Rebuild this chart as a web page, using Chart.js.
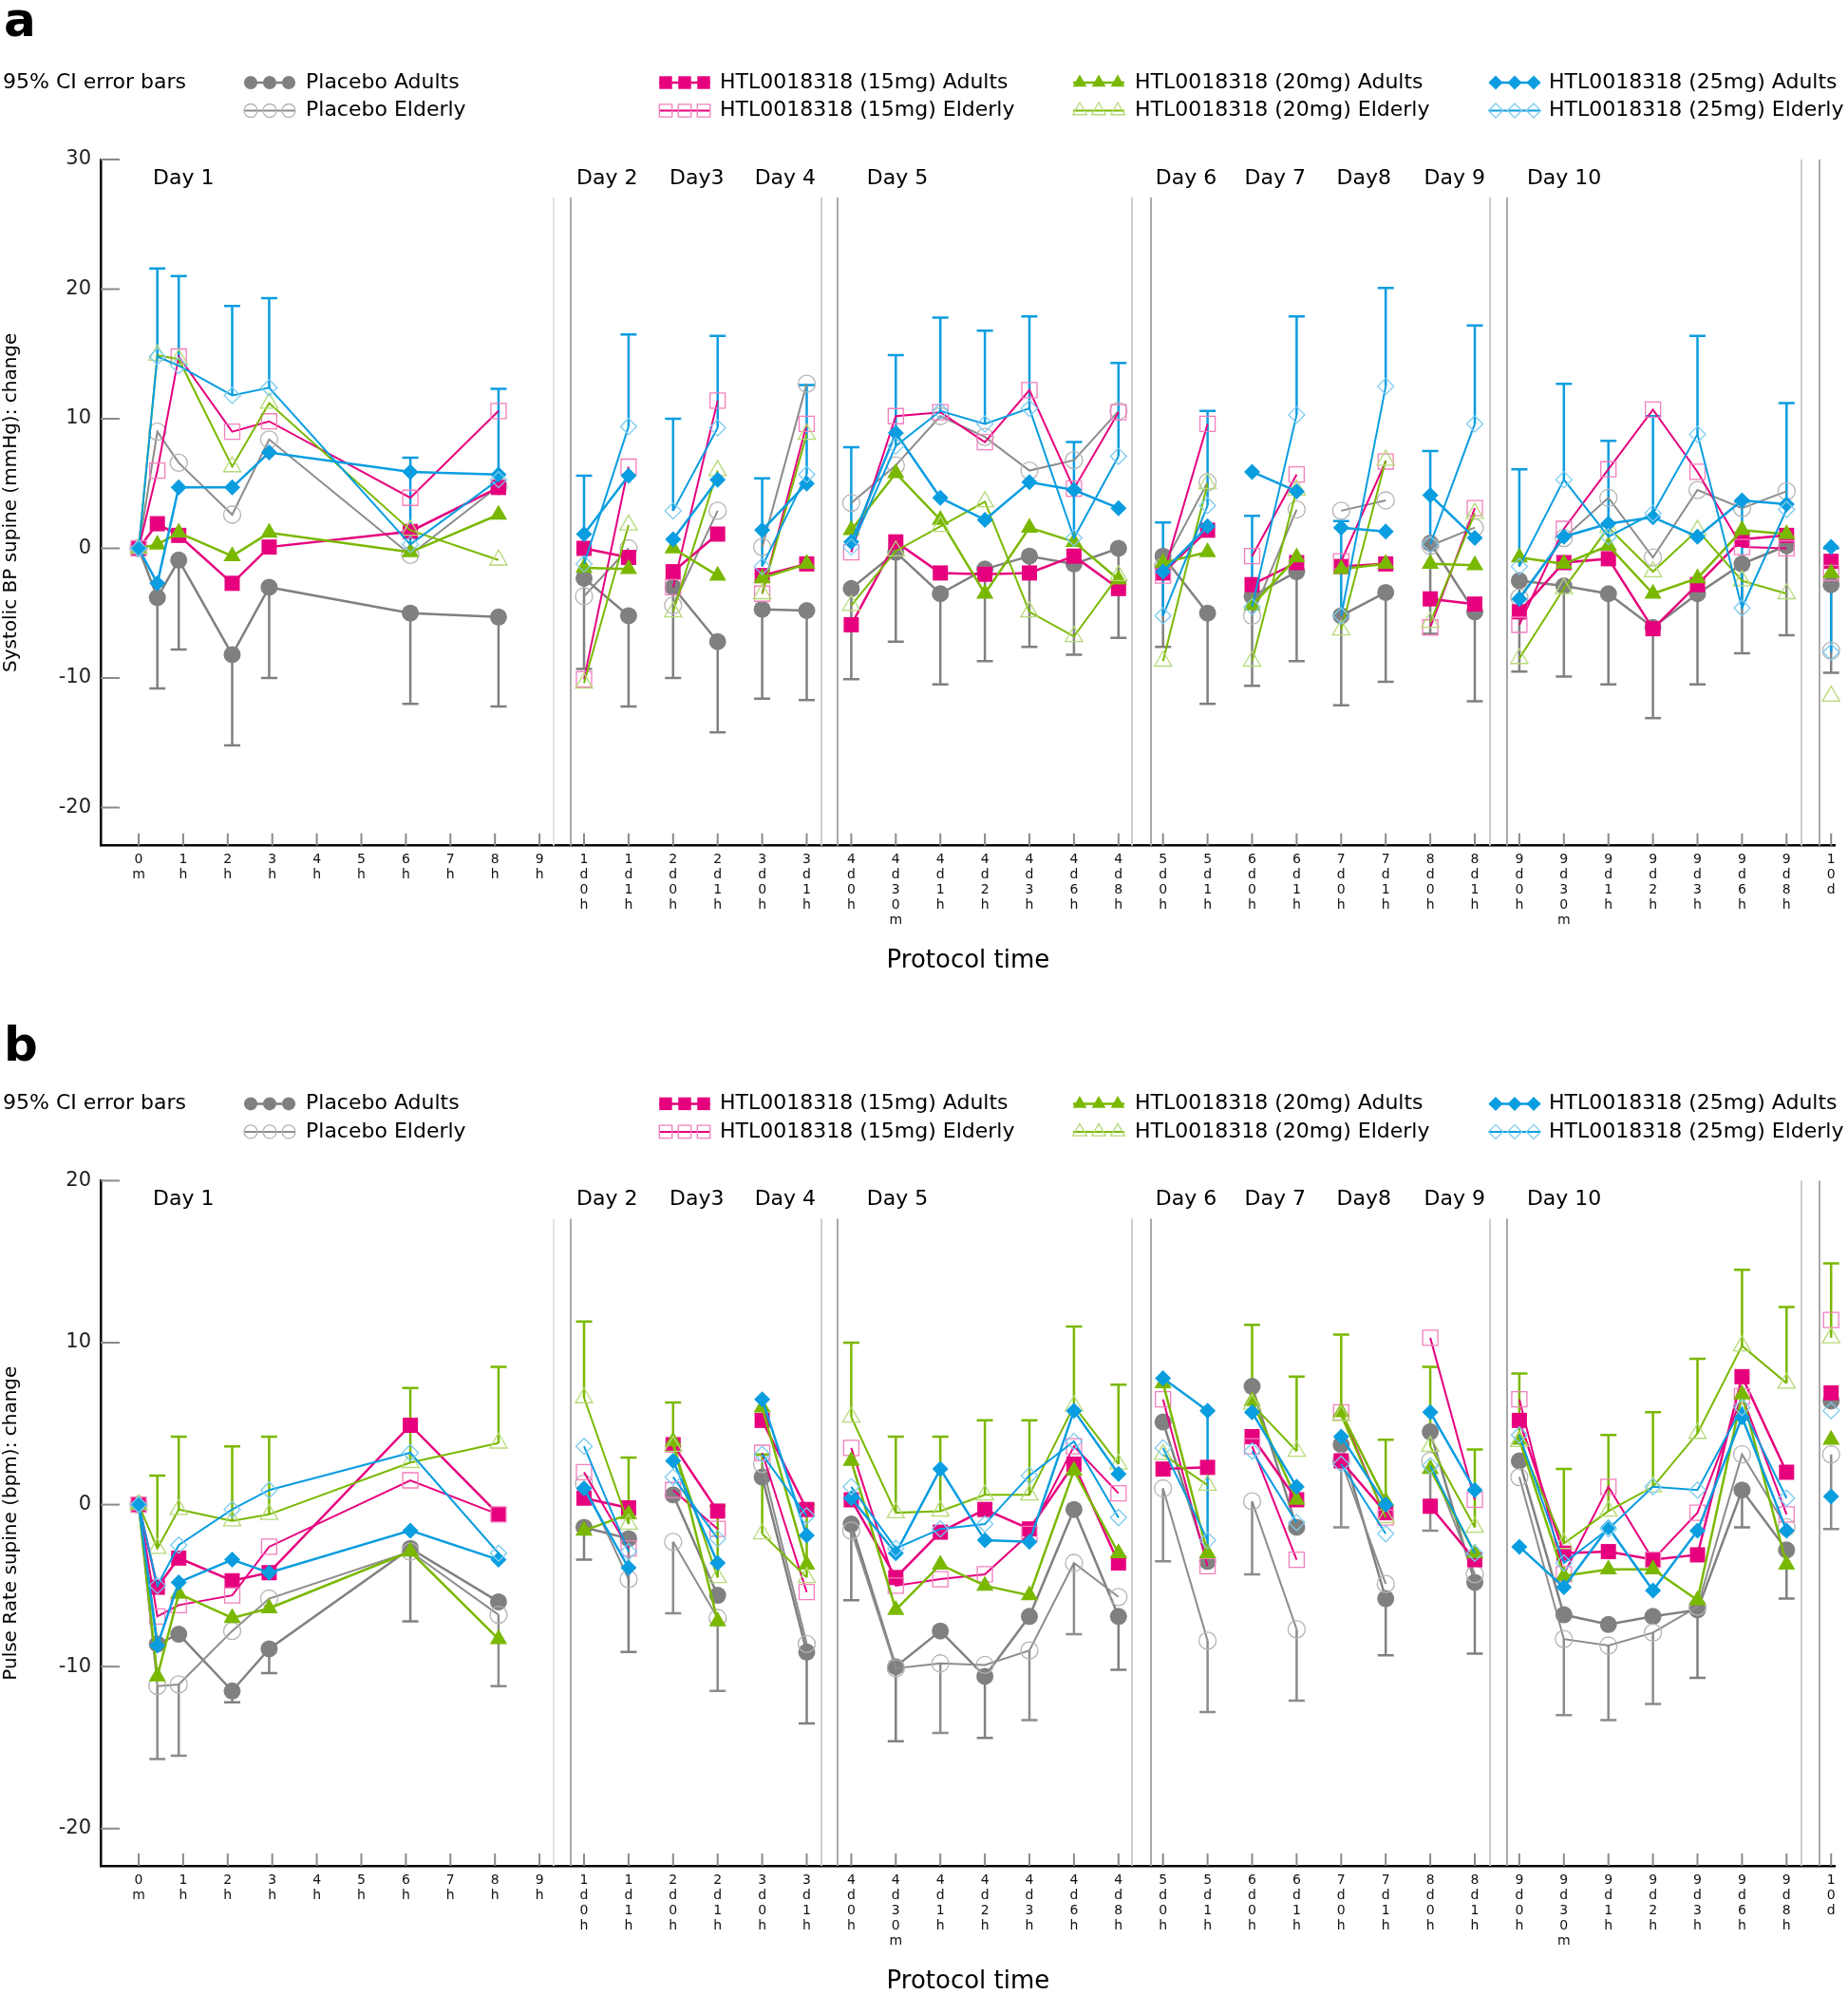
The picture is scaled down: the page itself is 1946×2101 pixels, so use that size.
<!DOCTYPE html>
<html>
<head>
<meta charset="utf-8">
<script src="https://cdn.jsdelivr.net/npm/chart.js@4.4.1/dist/chart.umd.min.js"></script>
<style>
  html, body { margin: 0; padding: 0; background: #fff; overflow: hidden; }
  body { width: 1946px; height: 2101px; position: relative; }
  canvas { position: absolute; left: 0; }
  #chartA { top: 0; }
  #chartB { top: 1040px; }
</style>
</head>
<body>
<canvas id="chartA" width="1946" height="1040"></canvas>
<canvas id="chartB" width="1946" height="1064"></canvas>
<script>
// ---- axis / categories ----
const tickLabels = ['0m','1h','2h','3h','4h','5h','6h','7h','8h','9h',
  '1d0h','1d1h','2d0h','2d1h','3d0h','3d1h',
  '4d0h','4d30m','4d1h','4d2h','4d3h','4d6h','4d8h',
  '5d0h','5d1h','6d0h','6d1h','7d0h','7d1h','8d0h','8d1h',
  '9d0h','9d30m','9d1h','9d2h','9d3h','9d6h','9d8h','10d'];

// measurement columns: position on the time axis and the day they belong to
const colX = [0, 0.42, 0.9, 2.1, 2.93, 6.1, 8.08,
  10, 11, 12, 13, 14, 15,
  16, 17, 18, 19, 20, 21, 22,
  23, 24, 25, 26, 27, 28, 29, 30,
  31, 32, 33, 34, 35, 36, 37, 38];
const colDay = [1,1,1,1,1,1,1, 2,2, 3,3, 4,4, 5,5,5,5,5,5,5, 6,6, 7,7, 8,8, 9,9, 10,10,10,10,10,10,10, 11];

const dayNames = ['Day 1','Day 2','Day3','Day 4','Day 5','Day 6','Day 7','Day8','Day 9','Day 10'];
const dayLabelX = [0.32, 9.83, 11.92, 13.83, 16.35, 22.83, 24.83, 26.9, 28.86, 31.17];
const sepLight = [9.32, 15.33, 22.3, 30.34, 37.33];
const sepDark = [9.71, 15.7, 22.72, 30.72, 37.74];

const seriesNames = ['Placebo Adults','Placebo Elderly',
  'HTL0018318 (15mg) Adults','HTL0018318 (15mg) Elderly',
  'HTL0018318 (20mg) Adults','HTL0018318 (20mg) Elderly',
  'HTL0018318 (25mg) Adults','HTL0018318 (25mg) Elderly'];

// ---- panel a: systolic BP (mmHg) ----
const aPlaceboAdults = [0, -3.8, -0.9, -8.2, -3.0, -5.0, -5.3, -2.3, -5.2, -3.0, -7.2, -4.7, -4.8,
  -3.1, -0.3, -3.5, -1.6, -0.6, -1.2, 0.0, -0.6, -5.0, -3.7, -1.8, -5.2, -3.4, 0.4, -4.9,
  -2.5, -2.9, -3.5, -6.1, -3.5, -1.2, 0.2, -2.8];
const aPlaceboAdultsLow = [null, -10.8, -7.8, -15.2, -10.0, -12.0, -12.2, -9.3, -12.2, -10.0, -14.2, -11.6, -11.7,
  -10.1, -7.2, -10.5, -8.7, -7.6, -8.2, -6.9, -7.6, -12.0, -10.6, -8.7, -12.1, -10.3, -6.6, -11.8,
  -9.5, -9.9, -10.5, -13.1, -10.5, -8.1, -6.7, -9.6];
const aPlaceboElderly = [0, 9.0, 6.6, 2.6, 8.4, -0.5, 4.8, -3.7, 0.0, -4.4, 2.9, 0.1, 12.7,
  3.5, 6.4, 10.2, 8.6, 6.0, 6.8, 10.6, -1.4, 5.1, -5.2, 3.0, 2.9, 3.7, 0.2, 1.6,
  -3.8, 0.8, 3.9, -0.7, 4.5, 3.1, 4.4, -7.9];
const a15Adults = [0, 1.9, 1.0, -2.7, 0.1, 1.3, 4.7, 0.0, -0.7, -1.8, 1.1, -2.1, -1.2,
  -5.9, 0.5, -1.9, -2.0, -1.9, -0.6, -3.1, -1.9, 1.4, -2.8, -1.1, -1.4, -1.2, -3.9, -4.3,
  -4.9, -1.1, -0.8, -6.2, -2.8, 0.7, 1.0, -1.0];
const a15Elderly = [0, 6.0, 14.8, 9.0, 9.8, 3.9, 10.6, -10.1, 6.3, -3.0, 11.4, -3.5, 9.6,
  -0.3, 10.2, 10.5, 8.2, 12.2, 4.6, 10.5, -2.1, 9.6, -0.6, 5.7, -1.0, 6.7, -6.1, 3.1,
  -5.9, 1.5, 6.1, 10.7, 5.9, 0.1, 0.0, -1.9];
const a20Adults = [0, 0.3, 1.2, -0.6, 1.2, -0.3, 2.6, -1.5, -1.6, 0.0, -2.1, -2.3, -1.2,
  1.4, 5.8, 2.2, -3.5, 1.6, 0.5, -2.4, -1.1, -0.3, -4.4, -0.7, -1.6, -1.2, -1.2, -1.3,
  -0.7, -1.2, 0.2, -3.5, -2.3, 1.4, 1.1, -1.9];
const a20Elderly = [0, 14.9, 14.6, 6.3, 11.2, 1.4, -0.9, -10.4, 1.8, -4.9, 6.0, -3.5, 8.8,
  -4.4, -0.2, 1.7, 3.6, -4.9, -6.8, -2.1, -8.7, 5.0, -8.7, 4.5, -6.3, 6.8, -5.7, 2.7,
  -8.5, -3.1, 1.6, -1.8, 1.4, -2.5, -3.5, -11.4];
const a25Adults = [0, -2.7, 4.7, 4.7, 7.4, 5.9, 5.7, 1.1, 5.6, 0.7, 5.3, 1.4, 5.0,
  0.5, 8.9, 3.9, 2.2, 5.1, 4.5, 3.1, -1.8, 1.7, 5.9, 4.4, 1.6, 1.3, 4.1, 0.8,
  -3.9, 0.9, 1.9, 2.4, 0.9, 3.7, 3.4, 0.1];
const a25Elderly = [0, 14.8, 14.1, 11.8, 12.4, 0.3, 5.3, -1.2, 9.4, 2.9, 9.3, -1.4, 5.7,
  0.1, 7.9, 10.6, 9.6, 10.8, 0.8, 7.1, -5.2, 3.3, -4.5, 10.3, -5.2, 12.5, 0.3, 9.6,
  -1.4, 5.3, 0.9, 2.7, 8.8, -4.6, 3.0, -8.0];
const a25ElderlyHigh = [null, 21.6, 21.0, 18.7, 19.3, 7.0, 12.3, 5.6, 16.5, 10.0, 16.4, 5.4, 12.6,
  7.8, 14.9, 17.8, 16.8, 17.9, 8.2, 14.3, 2.0, 10.6, 2.5, 17.9, 2.1, 20.1, 7.5, 17.2,
  6.1, 12.7, 8.3, 10.2, 16.4, 3.6, 11.2, 0.0];
const aTicks = [-20, -10, 0, 10, 20, 30];

// ---- panel b: pulse rate (bpm) ----
const bPlaceboAdults = [0, -8.6, -8.0, -11.5, -8.9, -2.7, -6.0, -1.4, -2.1, 0.6, -5.6, 1.7, -9.1,
  -1.2, -10.0, -7.8, -10.6, -6.9, -0.3, -6.9, 5.1, -3.5, 7.3, -1.4, 3.7, -5.8, 4.5, -4.8,
  2.7, -6.8, -7.4, -6.9, -6.5, 0.9, -2.8, 6.4];
const bPlaceboAdultsLow = [null, null, null, -12.2, -10.4, -7.2, null, -3.4, -9.1, null, null, null, -13.5,
  -5.9, -14.6, null, -14.4, null, null, -10.2, null, null, null, null, null, -9.3, null, -9.2,
  null, null, null, null, -10.7, -1.4, -5.8, null];
const bPlaceboElderly = [0, -11.2, -11.1, -7.8, -5.8, -2.9, -6.8, 1.3, -4.6, -2.3, -7.0, 2.5, -8.6,
  -1.6, -10.1, -9.8, -9.9, -9.0, -3.6, -5.7, 1.0, -8.4, 0.2, -7.7, 2.7, -4.9, 2.7, -4.3,
  1.7, -8.3, -8.7, -7.9, -6.3, 3.1, -1.4, 3.1];
const bPlaceboElderlyLow = [null, -15.7, -15.5, null, null, null, -11.2, null, null, -6.7, -11.5, null, null,
  null, null, -14.1, null, -13.3, -8.0, null, -3.5, -12.8, -4.3, -12.1, -1.4, null, -1.6, null,
  null, -13.0, -13.3, -12.3, null, null, null, -1.5];
const b15Adults = [0, -5.1, -3.3, -4.7, -4.2, 4.9, -0.6, 0.4, -0.2, 3.7, -0.4, 5.2, -0.3,
  0.3, -4.5, -1.7, -0.3, -1.5, 2.5, -3.6, 2.2, 2.3, 4.2, 0.3, 2.7, -0.5, -0.1, -3.4,
  5.2, -3.0, -2.9, -3.4, -3.1, 7.9, 2.0, 6.9];
const b15Elderly = [0, -6.9, -6.2, -5.6, -2.6, 1.5, -0.6, 2.0, -2.7, 0.9, -1.5, 3.2, -5.4,
  3.5, -5.0, -4.6, -4.3, -1.8, 3.6, 0.7, 6.5, -3.8, 3.6, -3.4, 5.7, -0.8, 10.3, 0.3,
  6.5, -4.3, 1.1, -3.4, -0.5, 6.7, -0.6, 11.4];
const b20Adults = [0, -10.6, -5.5, -7.0, -6.4, -2.9, -8.3, -1.6, -0.6, 3.9, -7.2, 6.0, -3.7,
  2.7, -6.5, -3.7, -5.0, -5.6, 2.1, -3.0, 7.5, -3.0, 6.4, 0.3, 5.7, 0.2, 2.2, -3.0,
  4.0, -4.4, -4.0, -4.0, -5.9, 6.8, -3.7, 4.0];
const b20Elderly = [0, -2.7, -0.3, -1.0, -0.6, 2.6, 3.8, 6.6, -1.2, 3.6, -4.5, -1.8, -4.5,
  5.4, -0.5, -0.4, 0.6, 0.6, 6.1, 2.5, 3.1, 1.2, 6.2, 3.3, 5.5, -0.8, 3.6, -1.4,
  3.9, -2.4, -0.4, 1.1, 4.4, 9.8, 7.5, 10.3];
const b20ElderlyHigh = [null, 1.8, 4.2, 3.6, 4.2, 7.2, 8.5, 11.3, 2.9, 6.3, -0.1, 3.1, 0.0,
  10.0, 4.2, 4.2, 5.2, 5.2, 11.0, 7.4, null, null, 11.1, 7.9, 10.5, 4.0, 8.5, 3.4,
  8.1, 2.2, 4.3, 5.7, 9.0, 14.5, 12.2, 14.9];
const b25Adults = [0, -8.7, -4.8, -3.4, -4.2, -1.6, -3.4, 1.0, -3.9, 2.7, -3.6, 6.5, -1.9,
  0.4, -3.0, 2.2, -2.2, -2.3, 5.8, 1.9, 7.8, 5.8, 5.7, 1.1, 4.2, 0.0, 5.7, 0.9,
  -2.6, -5.1, -1.4, -5.3, -1.6, 5.4, -1.6, 0.5];
const b25AdultsLow = [null, null, null, null, null, null, null, null, null, null, null, null, null,
  null, null, null, null, null, null, null, null, -3.3, null, null, null, null, null, null,
  null, null, null, null, null, null, null, null];
const b25Elderly = [0, -5.0, -2.5, -0.3, 0.9, 3.2, -3.0, 3.6, -2.9, 1.7, -2.1, 3.1, -0.7,
  1.1, -2.7, -1.5, -1.2, 1.8, 3.9, -0.8, 3.5, -2.2, 3.3, -1.1, 2.5, -1.8, 2.4, -3.0,
  4.3, -3.6, -1.5, 1.1, 0.9, 6.0, 0.4, 5.8];
const bTicks = [-20, -10, 0, 10, 20];

// ---- styles ----
const seriesLine = ['#808080', '#8c8c8c', '#e6007e', '#e6007e', '#7ab800', '#7ab800', '#0a9de0', '#0a9de0'];
const seriesMarker = ['#808080', '#b4b4b4', '#e6007e', '#f27fbd', '#7ab800', '#b6d97a', '#0a9de0', '#7ccbf0'];
const seriesWidth = [2.5, 2, 2.5, 2, 2.5, 2, 2.5, 2];
const seriesStyle = ['circle', 'circle', 'rect', 'rect', 'triangle', 'triangle', 'rectRot', 'rectRot'];
const seriesFilled = [true, false, true, false, true, false, true, false];
const markerSize = { circle: 9, rect: 11.3, triangle: 10.5, rectRot: 8.5 };
const legendSize = { circle: 7, rect: 9.5, triangle: 8.5, rectRot: 7.5 };
const legendMarkX = [257, 694, 1130, 1568];
const legendTextX = [322, 758, 1195, 1631];

const X_MIN = -0.853, X_MAX = 38.1;
const FONT = '"DejaVu Sans", "Liberation Sans", sans-serif';
Chart.defaults.font.family = FONT;
Chart.defaults.color = '#222';

function buildPoints(values) {
  const pts = [];
  for (let i = 0; i < colX.length; i++) {
    if (i > 0 && colDay[i] !== colDay[i - 1]) pts.push({ x: (colX[i] + colX[i - 1]) / 2, y: null });
    pts.push({ x: colX[i], y: values[i] });
  }
  return pts;
}

function drawMarker(ctx, style, cx, cy, r, filled, color) {
  ctx.beginPath();
  if (style === 'circle') ctx.arc(cx, cy, r, 0, Math.PI * 2);
  else if (style === 'rect') { const s = r * Math.SQRT1_2; ctx.rect(cx - s, cy - s, 2 * s, 2 * s); }
  else if (style === 'triangle') {
    ctx.moveTo(cx, cy - r); ctx.lineTo(cx + 0.866 * r, cy + 0.5 * r); ctx.lineTo(cx - 0.866 * r, cy + 0.5 * r); ctx.closePath();
  } else {
    ctx.moveTo(cx - r, cy); ctx.lineTo(cx, cy - r); ctx.lineTo(cx + r, cy); ctx.lineTo(cx, cy + r); ctx.closePath();
  }
  if (filled) { ctx.fillStyle = color; ctx.fill(); }
  else { ctx.lineWidth = 1.3; ctx.strokeStyle = color; ctx.stroke(); }
}

// separators, inner ticks, day labels, error bars, legend
const decor = {
  id: 'decor',
  beforeDatasetsDraw(chart, args, opts) {
    const { ctx, chartArea: area, scales: { x, y } } = chart;
    ctx.save();
    ctx.lineWidth = 2;
    sepLight.forEach((v, i) => {
      const top = i === sepLight.length - 1 ? area.top : area.top + 40;
      [[v, i === 0 ? '#e4e4e4' : '#cdcdcd'], [sepDark[i], '#a9a9a9']].forEach(([pos, col]) => {
        const px = Math.round(x.getPixelForValue(pos));
        ctx.strokeStyle = col;
        ctx.beginPath(); ctx.moveTo(px, top); ctx.lineTo(px, area.bottom); ctx.stroke();
      });
    });
    // inward tick marks
    ctx.strokeStyle = '#8a8a8a';
    opts.yTicks.forEach(v => {
      const py = y.getPixelForValue(v);
      ctx.beginPath(); ctx.moveTo(area.left, py); ctx.lineTo(area.left + 20, py); ctx.stroke();
    });
    tickLabels.forEach((_, i) => {
      const px = x.getPixelForValue(i);
      ctx.beginPath(); ctx.moveTo(px, area.bottom); ctx.lineTo(px, area.bottom - 13); ctx.stroke();
    });
    // day labels
    ctx.fillStyle = '#000';
    ctx.font = '22px ' + FONT;
    ctx.textBaseline = 'middle';
    ctx.textAlign = 'left';
    dayNames.forEach((d, i) => ctx.fillText(d, x.getPixelForValue(dayLabelX[i]), area.top + 20));
    // error bars
    ctx.lineWidth = 2.5;
    opts.errorBars.forEach(eb => {
      const base = opts.values[eb.ds];
      ctx.strokeStyle = seriesLine[eb.ds];
      eb.values.forEach((v, i) => {
        if (v === null || base[i] === null) return;
        const px = x.getPixelForValue(colX[i]);
        const y0 = y.getPixelForValue(base[i]);
        const y1 = y.getPixelForValue(v);
        ctx.beginPath();
        ctx.moveTo(px, y0); ctx.lineTo(px, y1);
        ctx.moveTo(px - 8.5, y1); ctx.lineTo(px + 8.5, y1);
        ctx.stroke();
      });
    });
    ctx.restore();
  },
  afterDraw(chart, args, opts) {
    const { ctx, chartArea: area } = chart;
    ctx.save();
    // panel letter
    ctx.fillStyle = '#000';
    ctx.font = 'bold 50px ' + FONT;
    ctx.textBaseline = 'alphabetic';
    ctx.fillText(opts.letter, 4, opts.letterY);
    // legend
    const row1 = area.top - 81, row2 = area.top - 51.5;
    ctx.font = '22px ' + FONT;
    ctx.textBaseline = 'middle';
    ctx.fillText('95% CI error bars', 3, row1);
    seriesNames.forEach((name, i) => {
      const grp = Math.floor(i / 2);
      const ry = i % 2 === 0 ? row1 : row2;
      const x0 = legendMarkX[grp];
      ctx.strokeStyle = seriesLine[i];
      ctx.lineWidth = seriesWidth[i];
      ctx.beginPath(); ctx.moveTo(x0, ry); ctx.lineTo(x0 + 54, ry); ctx.stroke();
      [x0 + 7, x0 + 27, x0 + 47].forEach(mx =>
        drawMarker(ctx, seriesStyle[i], mx, ry, legendSize[seriesStyle[i]], seriesFilled[i], seriesMarker[i]));
      ctx.fillStyle = '#000';
      ctx.fillText(name, legendTextX[grp], ry);
    });
    ctx.restore();
  }
};

function makeChart(id, p) {
  const canvas = document.getElementById(id);
  const datasets = seriesNames.map((name, i) => ({
    label: name,
    data: buildPoints(p.values[i]),
    borderColor: seriesLine[i],
    borderWidth: seriesWidth[i],
    backgroundColor: seriesFilled[i] ? seriesMarker[i] : 'rgba(0,0,0,0)',
    pointBackgroundColor: seriesFilled[i] ? seriesMarker[i] : 'rgba(0,0,0,0)',
    pointBorderColor: seriesMarker[i],
    pointBorderWidth: seriesFilled[i] ? 0 : 1.3,
    pointStyle: seriesStyle[i],
    pointRadius: markerSize[seriesStyle[i]],
    pointHoverRadius: markerSize[seriesStyle[i]],
    tension: 0,
    fill: false,
    spanGaps: false,
    clip: false,
    order: 8 - i
  }));
  const xAxisH = 137.4;
  return new Chart(canvas, {
    type: 'line',
    data: { datasets },
    plugins: [decor],
    options: {
      responsive: false,
      animation: false,
      layout: { padding: { top: p.areaTop, left: 0, right: 13.1, bottom: canvas.height - p.areaBottom - xAxisH } },
      plugins: {
        legend: { display: false },
        tooltip: { enabled: false },
        decor: { yTicks: p.yTicks, errorBars: p.errorBars, values: p.values, letter: p.letter, letterY: p.letterY }
      },
      scales: {
        x: {
          type: 'linear',
          min: X_MIN, max: X_MAX,
          afterBuildTicks: s => { s.ticks = tickLabels.map((_, i) => ({ value: i })); },
          afterFit: s => { s.height = xAxisH; },
          grid: { display: false, drawTicks: false },
          border: { display: true, color: '#000', width: 2.5 },
          ticks: {
            autoSkip: false, maxRotation: 0, minRotation: 0, padding: 7,
            font: { size: 14, lineHeight: 16 / 14 }, color: '#111',
            callback: v => tickLabels[v] ? tickLabels[v].split('') : ''
          },
          title: { display: true, text: 'Protocol time', font: { size: 26, lineHeight: 1.2 }, color: '#000', padding: 0 }
        },
        y: {
          min: p.yMin, max: p.yMax,
          afterBuildTicks: s => { s.ticks = p.yTicks.map(v => ({ value: v })); },
          afterFit: s => { s.width = 106; },
          grid: { display: false, drawTicks: false },
          border: { display: true, color: '#000', width: 2.5 },
          ticks: { padding: 10, font: { size: 21 }, color: '#222' },
          title: { display: true, text: p.yTitle, font: { size: 20, lineHeight: 1.2 }, color: '#000', padding: 0 }
        }
      }
    }
  });
}

makeChart('chartA', {
  values: [aPlaceboAdults, aPlaceboElderly, a15Adults, a15Elderly, a20Adults, a20Elderly, a25Adults, a25Elderly],
  errorBars: [{ ds: 0, values: aPlaceboAdultsLow }, { ds: 7, values: a25ElderlyHigh }],
  yMin: -22.94, yMax: 30, yTicks: aTicks,
  yTitle: 'Systolic BP supine (mmHg): change',
  areaTop: 168, areaBottom: 890.6,
  letter: 'a', letterY: 38
});

makeChart('chartB', {
  values: [bPlaceboAdults, bPlaceboElderly, b15Adults, b15Elderly, b20Adults, b20Elderly, b25Adults, b25Elderly],
  errorBars: [{ ds: 0, values: bPlaceboAdultsLow }, { ds: 1, values: bPlaceboElderlyLow },
              { ds: 6, values: b25AdultsLow }, { ds: 5, values: b20ElderlyHigh }],
  yMin: -22.3, yMax: 20, yTicks: bTicks,
  yTitle: 'Pulse Rate supine (bpm): change',
  areaTop: 203.4, areaBottom: 925,
  letter: 'b', letterY: 77
});
</script>
</body>
</html>
